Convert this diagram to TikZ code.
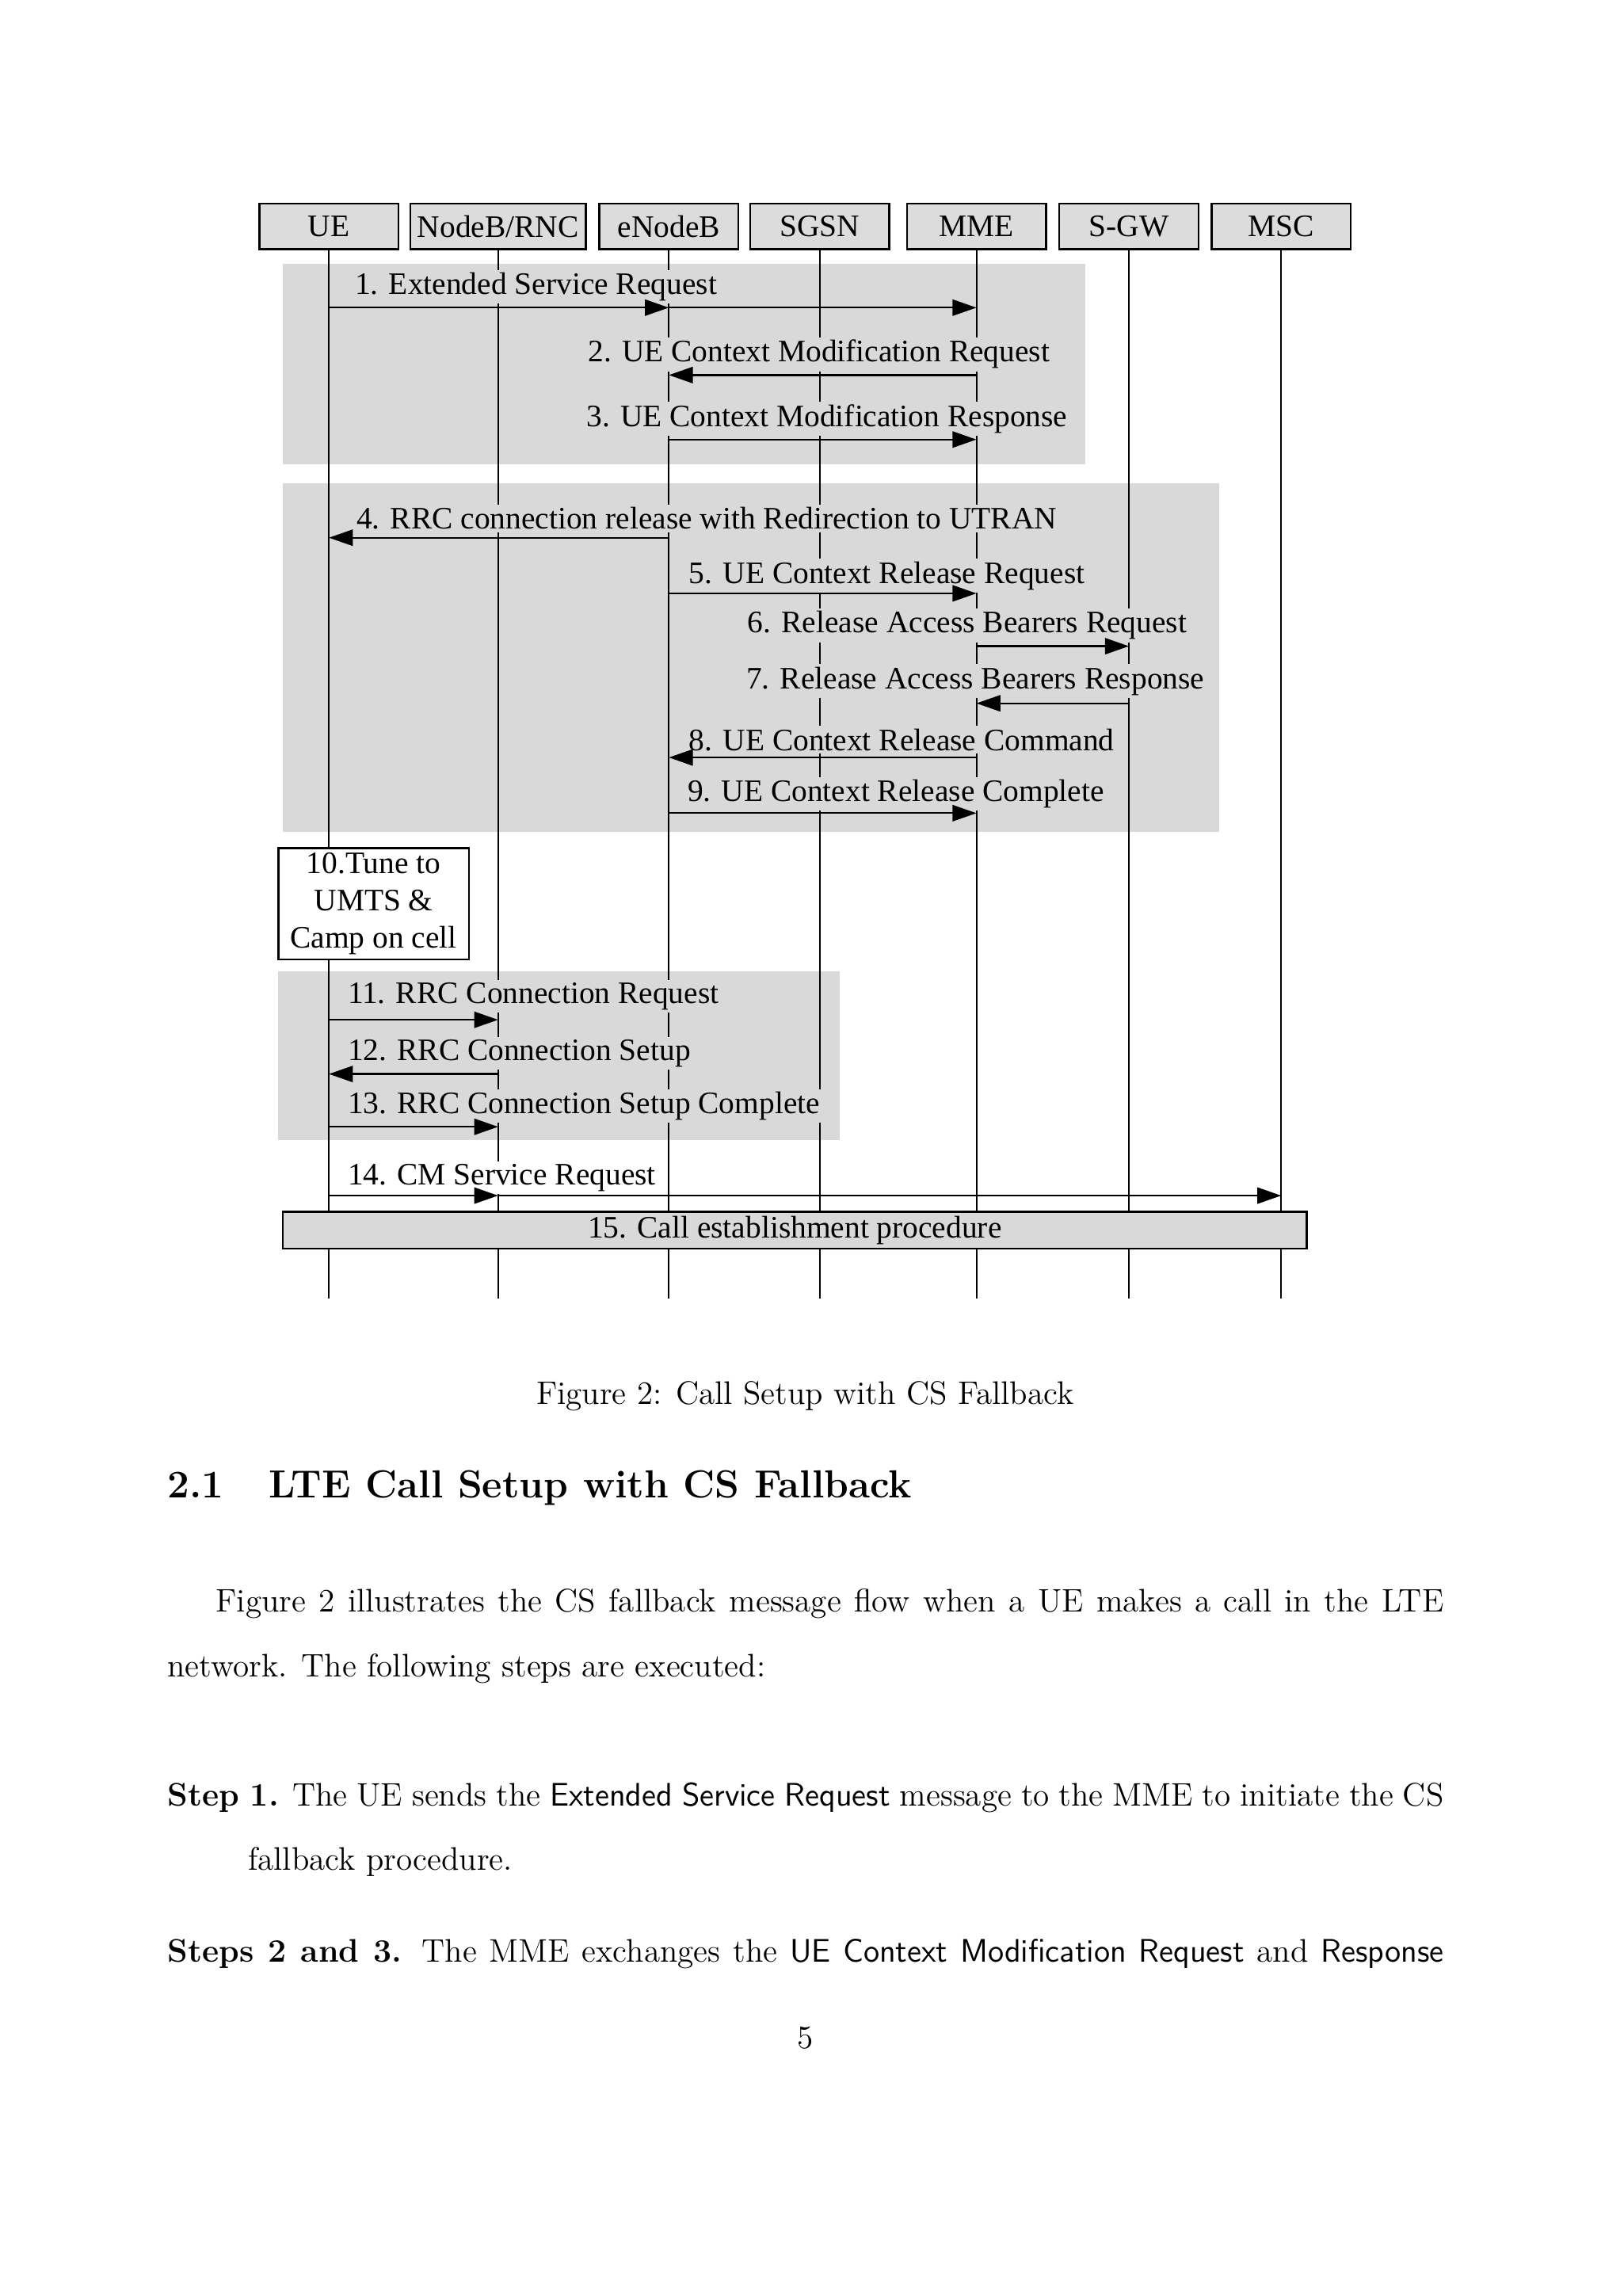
\documentclass[tikz,border=0pt]{standalone}
\usepackage{fontspec}
\newfontfamily\diagfont{Liberation Serif}
\usetikzlibrary{arrows.meta,calc}
\definecolor{PhaseGray}{RGB}{217,217,217}
\definecolor{HeadGray}{RGB}{220,220,220}

\begin{document}
\begin{tikzpicture}[
        %Environment config
        font=\diagfont\fontsize{11.5}{13.7}\selectfont,
        %Environment styles
        HeadCfg/.style={
            draw,
            fill=HeadGray,
            line width=0.7pt,
            minimum height=0.588cm,
            inner sep=0pt
        },
        LaneCfg/.style={line width=0.55pt},
        MsgCfg/.style={line width=0.65pt, -{Triangle[length=3.1mm,width=2.1mm]}},
        LblCfg/.style={anchor=west, inner sep=1pt, xshift=-1pt, yshift=-1pt, fill=PhaseGray},
        TextCfg/.style={anchor=west, inner sep=0pt, font=\rmfamily\fontsize{12}{14.5}\selectfont}
    ]
    \useasboundingbox (0,0) rectangle (21,29.7);

    %phase backgrounds
    \fill[PhaseGray] (3.658,23.692) rectangle (14.045,26.288);
    \fill[PhaseGray] (3.658,18.934) rectangle (15.770,23.445);
    \fill[PhaseGray] (3.601,14.954) rectangle (10.861,17.133);

    %entities
    \path
        (4.255,26.772) node[HeadCfg, minimum width=1.80cm] (ue) {UE}
        (6.444,26.772) node[HeadCfg, minimum width=2.27cm] (rnc) {NodeB/RNC}
        (8.653,26.772) node[HeadCfg, minimum width=1.80cm] (enb) {eNodeB}
        (10.605,26.772) node[HeadCfg, minimum width=1.80cm] (sgsn) {SGSN}
        (12.632,26.772) node[HeadCfg, minimum width=1.80cm] (mme) {MME}
        (14.604,26.772) node[HeadCfg, minimum width=1.80cm] (sgw) {S-GW}
        (16.575,26.772) node[HeadCfg, minimum width=1.80cm] (msc) {MSC};

    \coordinate (end) at (0,12.907);
    \foreach \n/\y in {1/25.720, 2/24.848, 3/24.014, 4/22.744, 5/22.024, 6/21.341,
        7/20.602, 8/19.901, 9/19.181, 11/16.508, 12/15.807, 13/15.124, 14/14.234}
        \coordinate (m\n) at (0,\y);

    %lifelines
    \foreach \e in {ue,rnc,enb,sgsn,mme,sgw,msc}
        \draw[LaneCfg] (\e.south) -- (\e.south |- end);

    %message labels
    \node[LblCfg] (l1) at (4.587,26.023) {1. Extended Service Request};
    \node[LblCfg] (l2) at (7.601,25.151) {2. UE Context Modification Request};
    \node[LblCfg] (l3) at (7.582,24.317) {3. UE Context Modification Response};
    \node[LblCfg] (l4) at (4.606,23.028) {4. RRC connection release with Redirection to UTRAN};
    \node[LblCfg] (l5) at (8.908,22.289) {5. UE Context Release Request};
    \node[LblCfg] (l6) at (9.667,21.645) {6. Release Access Bearers Request};
    \node[LblCfg] (l7) at (9.648,20.924) {7. Release Access Bearers Response};
    \node[LblCfg] (l8) at (8.908,20.166) {8. UE Context Release Command};
    \node[LblCfg] (l9) at (8.889,19.465) {9. UE Context Release Complete};
    \node[LblCfg] (l11) at (4.492,16.849) {11. RRC Connection Request};
    \node[LblCfg] (l12) at (4.492,16.110) {12. RRC Connection Setup};
    \node[LblCfg] (l13) at (4.492,15.428) {13. RRC Connection Setup Complete};
    \node[LblCfg, fill=white] (l14) at (4.492,14.499) {14. CM Service Request};

    %messages
    \draw[MsgCfg] (ue |- m1) -- (enb |- m1);
    \draw[MsgCfg] (enb |- m1) -- (mme |- m1);
    \draw[MsgCfg] (mme |- m2) -- (enb |- m2);
    \draw[MsgCfg] (enb |- m3) -- (mme |- m3);
    \draw[MsgCfg] (enb |- m4) -- (ue |- m4);
    \draw[MsgCfg] (enb |- m5) -- (mme |- m5);
    \draw[MsgCfg] (mme |- m6) -- (sgw |- m6);
    \draw[MsgCfg] (sgw |- m7) -- (mme |- m7);
    \draw[MsgCfg] (mme |- m8) -- (enb |- m8);
    \draw[MsgCfg] (enb |- m9) -- (mme |- m9);
    \draw[MsgCfg] (ue |- m11) -- (rnc |- m11);
    \draw[MsgCfg] (rnc |- m12) -- (ue |- m12);
    \draw[MsgCfg] (ue |- m13) -- (rnc |- m13);
    \draw[MsgCfg] (ue |- m14) -- (rnc |- m14);
    \draw[MsgCfg] (rnc |- m14) -- (msc |- m14);

    %local steps
    \node[draw, fill=white, line width=0.7pt, minimum width=2.464cm, minimum height=1.441cm,
        align=center, inner sep=0pt] (tune) at (4.833,18.010) {10.Tune to\\UMTS \&\\Camp on cell};
    \node[HeadCfg, fill=PhaseGray, minimum width=13.249cm, minimum height=0.474cm]
        (call) at (10.282,13.788) {\raisebox{-1pt}{15. Call establishment procedure}};

    %page text
    \node[TextCfg, anchor=center] (cap) at (10.415,11.640) {Figure 2: Call Setup with CS Fallback};
    \node[TextCfg, font=\rmfamily\bfseries\fontsize{14.4}{18}\selectfont] (sec) at (2.161,10.450)
        {\makebox[1.308cm][l]{2.1}LTE Call Setup with CS Fallback};
    \node[TextCfg] (par1) at (2.786,8.950)
        {\makebox[15.884cm][s]{Figure 2 illustrates the CS fallback message flow when a UE makes a call in the LTE}};
    \node[TextCfg] (par2) at (2.161,8.116) {network. The following steps are executed:};
    \node[TextCfg] (st1a) at (2.161,6.450)
        {\makebox[16.509cm][s]{\textbf{Step 1.} The UE sends the \textsf{Extended Service Request} message to the MME to initiate the CS}};
    \node[TextCfg] (st1b) at (3.203,5.616) {fallback procedure.};
    \node[TextCfg] (st2) at (2.161,4.422)
        {\makebox[16.509cm][s]{\textbf{Steps 2 and 3.} The MME exchanges the \textsf{UE Context Modification Request} and \textsf{Response}}};
    \node[TextCfg, anchor=center] (pg) at (10.415,3.342) {5};
\end{tikzpicture}
\end{document}
